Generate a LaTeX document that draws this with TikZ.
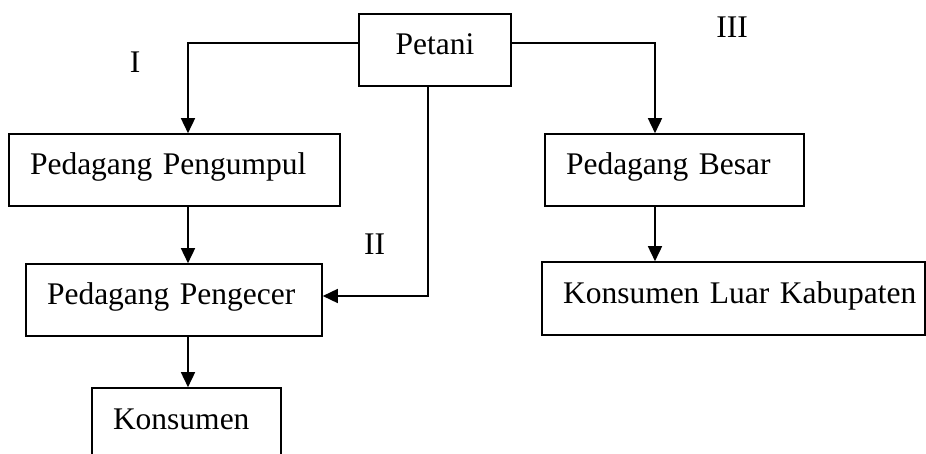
\documentclass[tikz,border=0pt]{standalone}
\usepackage{fontspec}
\setmainfont{Liberation Serif}
\usetikzlibrary{arrows.meta}
\begin{document}
\begin{tikzpicture}[x=1pt,y=-1pt,
  every node/.style={font=\fontsize{31.5}{36}\selectfont},
  flowbox/.style={draw, line width=1.6pt, rectangle, minimum height=72pt,
    inner xsep=21pt, inner ysep=0pt, text height=22pt, text depth=12pt, align=left},
  numlabel/.style={inner sep=0pt},
  link/.style={line width=1.6pt},
  flow/.style={link, -{Triangle[length=15pt,width=14pt]}}]
\useasboundingbox (0,0) rectangle (926,454);
\clip (0,0) rectangle (926,454);

% boxes
\node[flowbox, align=center, inner xsep=0pt, minimum width=152pt] (petani) at (435,50) {Petani};
\node[flowbox, text width=289pt] (pengumpul) at (174.5,170) {\mbox{Pedagang Pengumpul}};
\node[flowbox, text width=254pt] (pengecer) at (174,300) {\mbox{Pedagang Pengecer}};
\node[flowbox, text width=147pt] (konsumen) at (186.5,424) {\mbox{Konsumen}};
\node[flowbox, text width=217pt] (besar) at (674.5,170) {\mbox{Pedagang Besar}};
\node[flowbox, text width=341pt, minimum height=73pt] (luar) at (733.5,298.5) {\mbox{Konsumen Luar Kabupaten}\hss};

% channel labels
\node[numlabel] (lI) at (135,62) {I};
\node[numlabel] (lII) at (374.5,244.5) {II};
\node[numlabel] (lIII) at (732,27) {III};

% vertical lines of the channels
\coordinate (colI) at (188,0);
\coordinate (colII) at (428,0);
\coordinate (colIII) at (655,0);

% channel I
\draw[flow] ([yshift=7pt]petani.west) -| (pengumpul.north -| colI);
\draw[flow] (pengumpul.south -| colI) -- (pengecer.north -| colI);
\draw[flow] (pengecer.south -| colI) -- (konsumen.north -| colI);

% channel II
\draw[flow] (petani.south -| colII) |- ([yshift=4pt]pengecer.east);

% channel III
\draw[flow] ([yshift=7pt]petani.east) -| (besar.north -| colIII);
\draw[flow] (besar.south -| colIII) -- (luar.north -| colIII);
\end{tikzpicture}
\end{document}
